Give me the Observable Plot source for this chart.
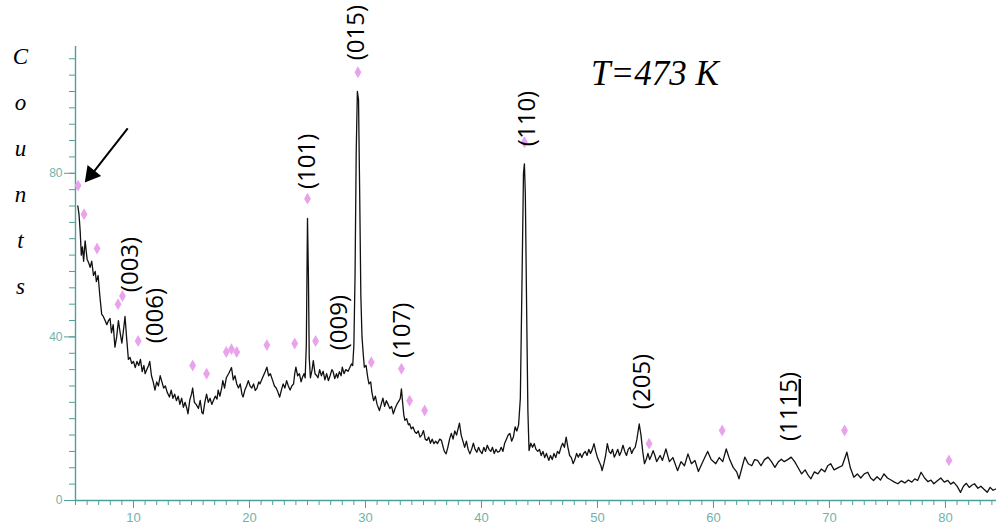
<!DOCTYPE html>
<html>
<head>
<meta charset="utf-8">
<script src="https://cdn.jsdelivr.net/npm/d3@7"></script>
<script src="https://cdn.jsdelivr.net/npm/@observablehq/plot@0.6"></script>
<style>
  html, body { margin: 0; padding: 0; background: #fff; }
  #chart { width: 996px; height: 530px; overflow: hidden; }
</style>
</head>
<body>
<div id="chart"></div>
<script>
// ---- measured pattern (2θ in degrees, counts) ----
const twoTheta = [
  5.20,5.30,5.40,5.50,5.60,5.70,5.83,6.00,6.15,6.26,6.40,6.55,6.70,6.80,6.95,7.10,7.26,7.40,7.55,7.70,7.85,7.98,
  8.10,8.25,8.40,8.55,8.70,8.85,9.00,9.15,9.27,9.40,9.56,9.70,9.85,10.00,10.15,10.30,10.45,10.60,10.75,10.90,
  11.00,11.15,11.30,11.40,11.55,11.70,11.85,12.00,12.15,12.30,12.45,12.60,12.75,12.90,13.10,13.25,13.40,13.55,
  13.70,13.85,14.00,14.15,14.30,14.45,14.60,14.70,14.85,15.00,15.10,15.25,15.40,15.60,15.75,15.90,16.00,16.15,
  16.30,16.45,16.60,16.75,16.90,17.05,17.20,17.30,17.45,17.60,17.70,17.85,18.00,18.20,18.45,18.60,18.75,18.90,
  19.05,19.20,19.35,19.45,19.60,19.75,19.90,20.05,20.20,20.35,20.50,20.65,20.80,20.90,21.05,21.20,21.35,21.50,
  21.65,21.80,22.00,22.15,22.30,22.45,22.60,22.75,22.90,23.05,23.20,23.35,23.50,23.65,23.80,23.90,24.00,24.15,
  24.30,24.45,24.55,24.70,24.80,24.90,25.00,25.08,25.15,25.25,25.40,25.50,25.65,25.80,25.90,26.05,26.20,26.35,
  26.50,26.65,26.80,26.95,27.10,27.20,27.35,27.50,27.60,27.75,27.90,28.00,28.15,28.30,28.50,28.65,28.80,28.90,
  29.00,29.10,29.20,29.30,29.40,29.50,29.60,29.70,29.80,29.90,30.05,30.20,30.30,30.45,30.55,30.70,30.85,31.00,
  31.20,31.35,31.50,31.65,31.80,31.95,32.10,32.25,32.40,32.55,32.70,32.90,33.00,33.10,33.20,33.30,33.40,33.55,
  33.70,33.80,33.95,34.10,34.25,34.40,34.55,34.70,34.85,35.00,35.15,35.30,35.45,35.60,35.75,35.90,36.05,36.20,
  36.40,36.55,36.70,36.80,36.95,37.10,37.25,37.40,37.55,37.70,37.85,38.10,38.25,38.40,38.55,38.70,38.85,39.00,
  39.15,39.30,39.45,39.60,39.75,39.90,40.05,40.20,40.35,40.50,40.65,40.80,40.95,41.10,41.25,41.40,41.55,41.70,
  41.85,42.00,42.15,42.30,42.45,42.60,42.75,42.90,43.05,43.20,43.35,43.50,43.62,43.70,43.78,43.90,44.00,44.10,
  44.25,44.40,44.55,44.70,44.85,45.00,45.15,45.30,45.45,45.60,45.80,45.95,46.10,46.25,46.40,46.55,46.70,46.85,
  47.00,47.15,47.30,47.45,47.60,47.75,47.90,48.05,48.20,48.35,48.50,48.65,48.80,48.95,49.10,49.25,49.40,49.55,
  49.70,49.85,50.00,50.15,50.30,50.40,50.55,50.70,50.85,51.00,51.15,51.30,51.45,51.60,51.75,51.90,52.05,52.20,
  52.35,52.50,52.65,52.80,52.95,53.10,53.25,53.40,53.60,53.75,53.90,54.05,54.20,54.35,54.50,54.65,54.80,54.95,
  55.10,55.40,55.60,55.90,56.20,56.50,56.90,57.20,57.50,57.80,
  58.10,58.40,58.70,59.00,59.25,59.50,59.80,60.20,60.50,60.80,
  61.10,61.40,61.70,62.00,62.20,62.50,62.70,63.00,63.30,63.55,
  63.80,64.10,64.40,64.70,65.00,65.30,65.60,65.85,66.10,66.40,
  66.70,67.00,67.30,67.60,67.90,68.20,68.40,68.70,69.00,69.30,
  69.60,69.85,70.10,70.40,70.80,71.10,71.50,71.80,72.10,72.40,
  72.70,73.00,73.30,73.55,73.80,74.10,74.40,74.70,75.00,75.30,
  75.60,75.90,76.20,76.50,76.80,77.10,77.35,77.60,77.90,78.20,
  78.50,78.75,79.00,79.30,79.60,79.90,80.20,80.45,80.70,81.00,
  81.30,81.55,81.80,82.05,82.30,82.50,82.80,83.05,83.30,83.60,
  83.85,84.10,84.40
];
const counts = [
  72,70,66,60,62,58.5,63.5,59,58,57,58.5,55,56,53.5,55,50,45.5,45,44,43,44,44.5,
  41,43,37.5,40,44,41,38.5,42,45,40,34.5,35,33.5,34,32.5,34,33,34.5,31.5,33,
  31,32,33,34,30.5,29,27,29,28,30.5,29,27.5,28,26.5,25.3,27,25,26,
  24.4,25.5,23.5,25,22.8,24,22.5,21.2,24.5,26,27.5,24,23.5,22.5,24.5,21.5,21.2,24,
  26,24,25,23.5,24.5,25.5,24.8,27,25.5,27.5,29.3,27.5,30,31,32.5,29.5,30.5,28.5,
  27.5,28.5,26,25.3,27,28,29.3,28,27.5,28.5,26.9,27.5,29,28.5,29.5,30.5,31.5,32.6,
  30.5,31,29.3,28,27.5,26.5,25.3,27,28.5,27.5,29.3,28,27,28,28.5,31,32.6,30.5,
  31,29,30,31,30,38,69,55,35,30,32,34.2,31,30.5,30,32,30.5,31.6,
  29.5,31,29.3,30.5,32,31.6,29.8,31,30,31.5,30.5,32.6,31,32,31.6,32.5,33.4,33,
  38,55,85,100,98,75,50,40,36,32.6,33,30,28.5,29,26.5,24.4,25.5,23.5,
  22,23.5,25,23,24.4,23.5,22.5,23,21.2,22.5,23.5,24.4,25,27.3,24,21,19.6,20,
  18.5,18.8,17.5,18,16.8,16.4,17,15.5,16,17.1,15,14.7,15.5,14,15,13.9,14.5,13.9,
  15,14.7,13,12,11.4,13,15,16.4,15,17,16,18.9,16,14.5,13,14.5,12.5,11.4,
  12.5,14,12.5,11.8,13,12,11.5,13,12,13.5,12.5,12,13,11.5,12.5,11.8,12,13,
  12,14,15,16,16.4,14.5,15.5,18,17,18.5,25,55,80,82.3,75,45,22,12.2,
  14,13,13.9,12.5,12,12.5,11,12,10.5,11.5,9.8,11,10,11.5,10.5,12,11.5,13,
  14,13,15.5,13,11,10.5,9,10,11.5,10.6,11.5,10.5,11.5,12,11,12.5,11.5,12.5,
  13.9,12,10.5,9.5,8.5,7.3,9,11,13.9,12,11.5,12.5,10.6,11.5,12.5,11,12,13.5,
  12,11,12.5,13,11.5,12.5,13,15,18.7,16,12,9,10,11.5,10,11,12.2,11,
  9.5,11,9.8,12.6,9.5,10.5,7.3,9.5,8.5,11.4,
  9,9.8,7.1,9,10.5,12,10,9,10.5,9.5,
  12.6,10,8.1,7,5.3,8.5,10.6,9,8.5,10,
  9.8,8.5,10,10.6,9.5,8.1,9.5,10.1,9.5,10,
  10.6,9.5,8,6.5,7.5,6,5.3,7,6.5,7.7,
  7,8.5,9,7.5,8.1,8.5,11.8,8,5.7,6.5,
  5.5,6.5,6.9,5.5,4.9,5.8,5,6.5,5.5,5,
  4.5,4.1,4.8,4.3,5,4.5,5.3,4.9,6.9,5.5,
  4.6,5,4.1,4.8,5.5,4.5,4.9,4,4.5,3.5,
  2,3.5,4.2,3.2,3.8,4.1,3,3.5,2.8,2,
  3.2,2.5,2.9
];

// pink reference-pattern markers (2θ, relative height)
const refTheta  = [5.22,5.74,6.86,8.67,9.05,10.4,15.1,16.3,18.0,18.45,18.9,21.5,23.9,25.0,25.7,29.35,30.5,33.1,33.8,35.1,43.7,54.45,60.75,71.3,80.3];
const refCounts = [77,70,61.6,48,50,39,33,31,36.3,37,36.3,38,38.4,73.8,39,104.7,33.8,32.2,24.4,22,87.6,13.9,17.1,17.1,9.8];

// Miller-index annotations
const hklText  = ["(003)","(006)","(101)","(009)","(015)","(107)","(110)","(205)","(1115)"];
const hklTheta = [9.7, 11.85, 25.0, 27.76, 29.23, 33.2, 43.95, 53.85, 66.5];
const hklCount = [57.7, 45.2, 82.9, 43.5, 114.4, 41.6, 93.4, 29.1, 23.0];

// axis ticks
const xMajorTicks = [10,20,30,40,50,60,70,80];
const yMajorTicks = [0,40,80];

// other annotations
const titleText = ["T=473 K"];
const yLabel = "Counts";
const arrowTail = {x: 9.5, y: 91};
const arrowTip = {x: 6.0, y: 78.7};

const AXIS = "#4f9f9b";
const LABEL = "#6fb3ad";
const PINK = "#e9a3ec";

const n = Math.min(twoTheta.length, counts.length);
const pattern = twoTheta.slice(0, n).map((x, i) => ({x, y: counts[i]}));
const refs = refTheta.map((x, i) => ({x, y: refCounts[i]}));
const hkl = hklText.map((t, i) => ({t, x: hklTheta[i], y: hklCount[i]}));

const chart = Plot.plot({
  width: 996,
  height: 530,
  marginLeft: 75,
  marginRight: 0,
  marginTop: 46,
  marginBottom: 30,
  x: {domain: [5, 84.4]},
  y: {domain: [0, 111]},
  style: {background: "#fff", overflow: "visible", fontFamily: "'Liberation Sans', Arial, sans-serif"},
  marks: [
    Plot.axisX({ticks: d3.range(5, 85, 1), tickSize: 5, tickFormat: () => "", stroke: AXIS, label: null}),
    Plot.axisX({ticks: xMajorTicks, tickSize: 8, tickPadding: 4, stroke: AXIS, fill: LABEL, fontSize: 13, label: null}),
    Plot.axisY({ticks: d3.range(0, 111, 4), tickSize: 6, tickFormat: () => "", stroke: AXIS, label: null}),
    Plot.axisY({ticks: yMajorTicks, tickSize: 11, tickPadding: 2, stroke: AXIS, fill: LABEL, fontSize: 12, label: null}),
    Plot.ruleY([0], {stroke: AXIS, strokeWidth: 1.4}),
    Plot.ruleX([5], {y1: 0, y2: 111, stroke: AXIS, strokeWidth: 1.4}),
    Plot.dot(refs, {x: "x", y: "y", symbol: "diamond", r: 3.6, fill: PINK, stroke: "none"}),
    Plot.line(pattern, {x: "x", y: "y", stroke: "#111", strokeWidth: 1.3, curve: "linear"}),
    Plot.text(hkl, {x: "x", y: "y", text: "t", rotate: -90, fontSize: 24, fill: "#000",
      fontFamily: "'Open Sans', 'Noto Sans', sans-serif", textAnchor: "middle", lineAnchor: "middle"}),
    Plot.text(titleText, {x: [49.45], y: [104.3], text: d => d, textAnchor: "start", lineAnchor: "middle",
      fontSize: 35, fontStyle: "italic", fontFamily: "'Liberation Serif', serif", fill: "#000"}),
    Plot.text([yLabel.split("").join("\n")], {frameAnchor: "top-left", dx: -55, dy: -15, textAnchor: "middle",
      lineAnchor: "top", lineHeight: 2.0, fontSize: 23, fontStyle: "italic", fontFamily: "'Liberation Serif', serif", fill: "#000"}),
    Plot.link([arrowTail], {x1: "x", y1: "y", x2: () => arrowTip.x + 0.55, y2: () => arrowTip.y + 1.6, stroke: "#000", strokeWidth: 2}),
    Plot.dot([arrowTip], {x: d => d.x + 0.35, y: d => d.y + 1.0, symbol: "triangle", r: 6.5, rotate: 219, fill: "#000", stroke: "none"})
  ]
});

// underline part of the (1115) index
d3.select(chart).selectAll("text").each(function() {
  if (this.textContent === "(1115)") {
    const t = d3.select(this);
    t.text("");
    t.append("tspan").text("(11");
    t.append("tspan").attr("text-decoration", "underline").text("15");
    t.append("tspan").text(")");
  }
});

document.getElementById("chart").appendChild(chart);
</script>
</body>
</html>
